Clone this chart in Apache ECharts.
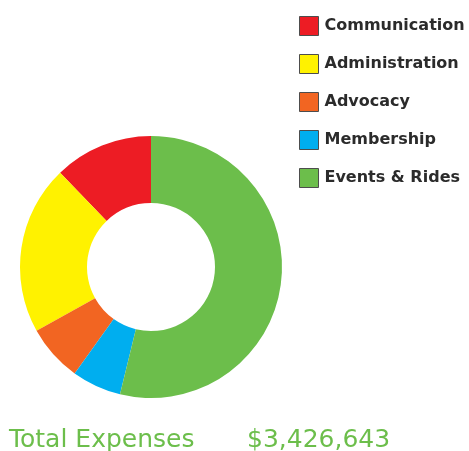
<!DOCTYPE html>
<html>
<head>
<meta charset="utf-8">
<style>
  html, body { margin: 0; padding: 0; background: #fff; }
  #main { width: 469px; height: 451px; }
</style>
<script src="https://cdn.jsdelivr.net/npm/echarts@6/dist/echarts.min.js"></script>
</head>
<body>
<div id="main"></div>
<script>
var categories = ['Communication', 'Administration', 'Advocacy', 'Membership', 'Events & Rides'];
var expenses = [418000, 716000, 240000, 209000, 1843643];
var colors = ['#ed1c24', '#fff200', '#f26522', '#00aeef', '#6cbe4b'];
var totalLabel = 'Total Expenses';
var totalValue = '$3,426,643';

var chartDom = document.getElementById('main');
var myChart = echarts.init(chartDom);
var option;

option = {
  animation: false,
  color: colors,
  title: [
    {
      text: totalLabel,
      left: 9,
      top: 428,
      padding: 0,
      textStyle: {
        color: '#6cbe4b',
        fontFamily: 'DejaVu Sans',
        fontWeight: 'normal',
        fontSize: 25
      }
    },
    {
      text: totalValue,
      left: 247,
      top: 428,
      padding: 0,
      textStyle: {
        color: '#6cbe4b',
        fontFamily: 'DejaVu Sans',
        fontWeight: 'normal',
        fontSize: 25
      }
    }
  ],
  legend: {
    orient: 'vertical',
    left: 299,
    top: 16,
    padding: 0,
    itemWidth: 19,
    itemHeight: 19,
    itemGap: 18,
    icon: 'rect',
    itemStyle: {
      borderColor: '#4d4d4d',
      borderWidth: 1
    },
    textStyle: {
      color: '#2b2b2b',
      fontFamily: 'DejaVu Sans',
      fontWeight: 'bold',
      fontSize: 16,
      padding: [0, 0, 0, 1]
    },
    data: categories
  },
  series: [
    {
      type: 'pie',
      center: [151, 267],
      radius: [64, 131],
      startAngle: 90,
      clockwise: false,
      label: { show: false },
      labelLine: { show: false },
      itemStyle: { borderWidth: 0 },
      emphasis: { disabled: true },
      data: categories.map(function (name, i) {
        return { name: name, value: expenses[i] };
      })
    }
  ]
};

myChart.setOption(option);
</script>
</body>
</html>
